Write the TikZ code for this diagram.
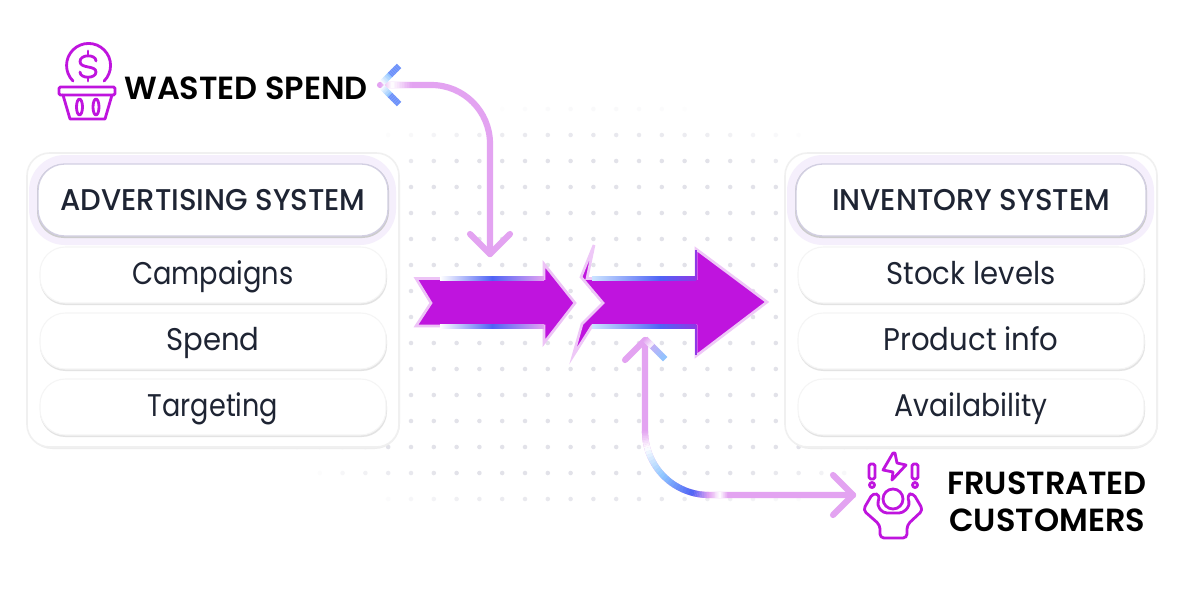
\documentclass[tikz,border=0pt]{standalone}
\usepackage{graphicx}
\usepackage{fontspec}
\setmainfont{Poppins}
\newfontfamily\fb{Poppins SemiBold}
\newfontfamily\fm{Poppins Medium}[FakeStretch=0.97]
\newfontfamily\fr{Poppins}[FakeStretch=0.93]
\usetikzlibrary{calc}
\definecolor{mag}{HTML}{BF14DE}
\definecolor{pk}{HTML}{E3A3F1}
\definecolor{bl}{HTML}{4F63F5}
\definecolor{lb}{HTML}{8CC4FF}
\definecolor{ink}{HTML}{1E2433}
\definecolor{dotc}{HTML}{E2E2E9}
\definecolor{glow}{HTML}{F5EFFC}
\definecolor{pedge}{HTML}{D2CFE2}
\definecolor{vio}{HTML}{8F38E6}
\tikzset{
 panelbox/.style={draw=black!6,line width=1.2pt,fill=white,rounded corners=17pt},
 conn/.style={draw=pk,line width=4.6pt,line cap=round,line join=round},
 ico/.style={draw=mag,line width=2.1pt,line cap=round,line join=round},
 item/.style={font=\fontsize{23.5}{26}\selectfont\fr,text=ink,inner sep=0pt},
 head/.style={font=\fontsize{22.5}{26}\selectfont\fm,text=ink,inner sep=0pt},
 call/.style={font=\fontsize{24}{27}\selectfont\fb,text=black,inner sep=0pt,align=left},
}
% straight gradient stroke: x1 y1 x2 y2 c1 c2
\newcommand{\gl}[6]{\foreach \i in {1,...,12}{%
  \pgfmathsetmacro\ta{(\i-1)/12}\pgfmathsetmacro\tb{\i/12+0.01}\pgfmathsetmacro\pc{100-100*(\i-0.5)/12}%
  \draw[line width=4.6pt,color={#5!\pc!#6}] ({#1+(#3-#1)*\ta},{#2+(#4-#2)*\ta}) -- ({#1+(#3-#1)*\tb},{#2+(#4-#2)*\tb});}}
% arc gradient stroke: cx cy r a1 a2 c1 c2
\newcommand{\ga}[7]{\foreach \i in {1,...,10}{%
  \pgfmathsetmacro\ta{#4+(#5-#4)*(\i-1)/10}\pgfmathsetmacro\tb{#4+(#5-#4)*(\i+0.1)/10}\pgfmathsetmacro\pc{100-100*(\i-0.5)/10}%
  \draw[line width=4.6pt,color={#6!\pc!#7}] ({#1+#3*cos(\ta)},{#2+#3*sin(\ta)}) -- ({#1+#3*cos(\tb)},{#2+#3*sin(\tb)});}}
\begin{document}
\begin{tikzpicture}[x=0.75pt,y=-0.75pt]
\useasboundingbox (0,0) rectangle (1184,600);
\fill[white] (0,0) rectangle (1184,600);
% dots
\foreach \k in {-8,...,23}{\foreach \j in {-1,...,14}{
  \pgfmathsetmacro\dx{(411+22.8*\k-592)/400}
  \pgfmathsetmacro\dy{(135+26*\j-318)/215}
  \pgfmathsetmacro\op{max(0,min(1,(1.02-\dx*\dx-\dy*\dy)*2.6))}
  \fill[dotc,opacity=\op] ({411+22.8*\k},{135+26*\j}) circle (1.7pt);
}}
% left panel
\path[fill=black!7,rounded corners=19pt] (27,155) rectangle (400,449);
\path[panelbox] (27,153) rectangle (399,447);
\path[fill=glow,rounded corners=27pt] (29,155) rectangle (396,245);
\path[fill=black!20,rounded corners=20pt] (37,164) rectangle (389,238);
\path[draw=pedge,line width=1pt,fill=white,rounded corners=20pt] (38,164) rectangle (388,236);
\node[head] (advh) at (213,200) {ADVERTISING SYSTEM};
\foreach \y/\n/\t/\s in {247/c/Campaigns/.936,313/s/Spend/1,379/t/Targeting/.93}{
  \path[fill=black!11,rounded corners=19pt] (40,\y+2) rectangle (387,\y+58);
  \path[draw=black!4,line width=.8pt,fill=white,rounded corners=19pt] (40,\y) rectangle (386,\y+56);
  \node[item,anchor=base] (adv\n) at (213,\y+37) {\scalebox{\s}[1]{\t}};
}
% right panel
\path[fill=black!7,rounded corners=19pt] (785,155) rectangle (1158,449);
\path[panelbox] (785,153) rectangle (1157,447);
\path[fill=glow,rounded corners=27pt] (787,155) rectangle (1154,245);
\path[fill=black!20,rounded corners=20pt] (795,164) rectangle (1147,238);
\path[draw=pedge,line width=1pt,fill=white,rounded corners=20pt] (796,164) rectangle (1146,236);
\node[head] (invh) at (971,200) {INVENTORY SYSTEM};
\foreach \y/\n/\t/\s in {247/c/Stock levels/1,313/s/Product info/1,379/t/Availability/.97}{
  \path[fill=black!11,rounded corners=19pt] (798,\y+2) rectangle (1145,\y+58);
  \path[draw=black!4,line width=.8pt,fill=white,rounded corners=19pt] (798,\y) rectangle (1144,\y+56);
  \node[item,anchor=base] (inv\n) at (971,\y+37) {\scalebox{\s}[1]{\t}};
}
% big arrows
\path[draw=pk!65,line width=2pt,line join=miter,fill=mag]
 (416,278.5)--(544,278.5)--(544,264)--(575,303)--(544,343)--(544,326)--(416,326)--(431,303)--cycle;
\path[left color=white,right color=pk,middle color=bl] (440,276.5) rectangle (544,280);
\path[left color=white,right color=pk,middle color=bl] (440,324.5) rectangle (544,328);
\path[draw=pk!60,line width=2pt,line join=miter,fill=mag]
 (594,245)--(587,278.5)--(696,278.5)--(696,249)--(767,302)--(696,356)--(696,326)--(592,326)--(573,356)--(582,324)--(603,303)--(581,277)--cycle;
\path[left color=lb!45,right color=bl] (592,276.5) rectangle (660,280);
\path[left color=bl,right color=vio] (660,276.5) rectangle (696,280);
\path[left color=lb!45,right color=bl] (592,324.5) rectangle (660,328);
\path[left color=bl,right color=vio] (660,324.5) rectangle (696,328);
\draw[vio,line width=2pt] (696,280)--(696,250);
\draw[vio,line width=2pt] (696,325)--(696,355);
% labels
\node[call,anchor=base west] (ws) at (124,99) {WASTED SPEND};
\node[call,anchor=base west] (fc) at (947,494) {FRUSTRATED};
\node[call,anchor=base west] (fc2) at (949,531) {CUSTOMERS};
% connectors
\coordinate (wsT) at (380,85);
\coordinate (wsE) at (490,254);
\coordinate (fcE) at (853,495);
\coordinate (arT) at (645,340);
\draw[conn,rounded corners=44pt] (wsT) -| (wsE);
\draw[conn] (wsE) -- ++(-20,-20);
\draw[conn] (wsE) -- ++(20,-20);
\gl{380}{85}{392}{85}{pk}{white}
\gl{392}{85}{412}{85}{white}{pk}
\gl{382}{83}{390}{75}{white}{lb}
\gl{390}{75}{399}{66}{lb}{lb!45!bl}
\gl{382}{87}{390}{95}{white}{lb}
\gl{390}{95}{399}{104}{lb}{lb!45!bl}
\draw[conn,rounded corners=48pt] (arT) |- (fcE);
\draw[conn] (fcE) -- ++(-20,-20);
\draw[conn] (fcE) -- ++(-20,20);
\draw[conn] (arT) -- ++(-20,20);
\gl{645}{339}{665}{359}{pk}{lb}
\gl{645}{339}{652}{346}{pk}{white}
\ga{709}{431}{64}{180}{165}{pk}{white}
\ga{709}{431}{64}{165}{135}{white}{lb}
\ga{709}{431}{64}{135}{105}{lb}{bl}
\ga{709}{431}{64}{105}{90}{bl}{pk}
\gl{709}{495}{720}{495}{pk}{white}
\gl{720}{495}{728}{495}{white}{pk}
% basket icon
\draw[ico] (73,81) arc (135:405:22);
\draw[ico,rounded corners=1pt] (59,87) rectangle (115,95);
\draw[ico] (63,95) -- (70,119) -- (105,119) -- (112,95);
\draw[ico] (79.5,107) ellipse (3 and 8);
\draw[ico] (96,107) ellipse (3 and 8);
\draw[ico] (96,61) .. controls (96,54) and (80,54) .. (80,61.5) .. controls (80,69) and (96,65) .. (96,72) .. controls (96,79) and (80,79) .. (80,72);
\draw[ico] (88,51) -- (88,55);
\draw[ico] (88,77) -- (88,81);
% person icon
\draw[ico] (893,499) circle (10);
\draw[ico] (893,453) -- (883,470) -- (893,472) -- (892,480) -- (906,465) -- (897,463) -- (895,453) -- cycle;
\draw[ico,rounded corners=1.2pt] (869,464) rectangle (875,479);
\draw[ico] (872,485) circle (2.5);
\draw[ico,rounded corners=1.2pt] (912,464) rectangle (918,479);
\draw[ico] (915,485) circle (2.5);
\draw[ico,rounded corners=3pt] (880,525) -- (863,510) -- (873,493) -- (880,495) -- (877,505) -- (883,513) -- (903,513) -- (910,505) -- (907,495) -- (913,493) -- (923,510) -- (907,525) -- (907,538) -- (880,538) -- cycle;
\end{tikzpicture}
\end{document}
